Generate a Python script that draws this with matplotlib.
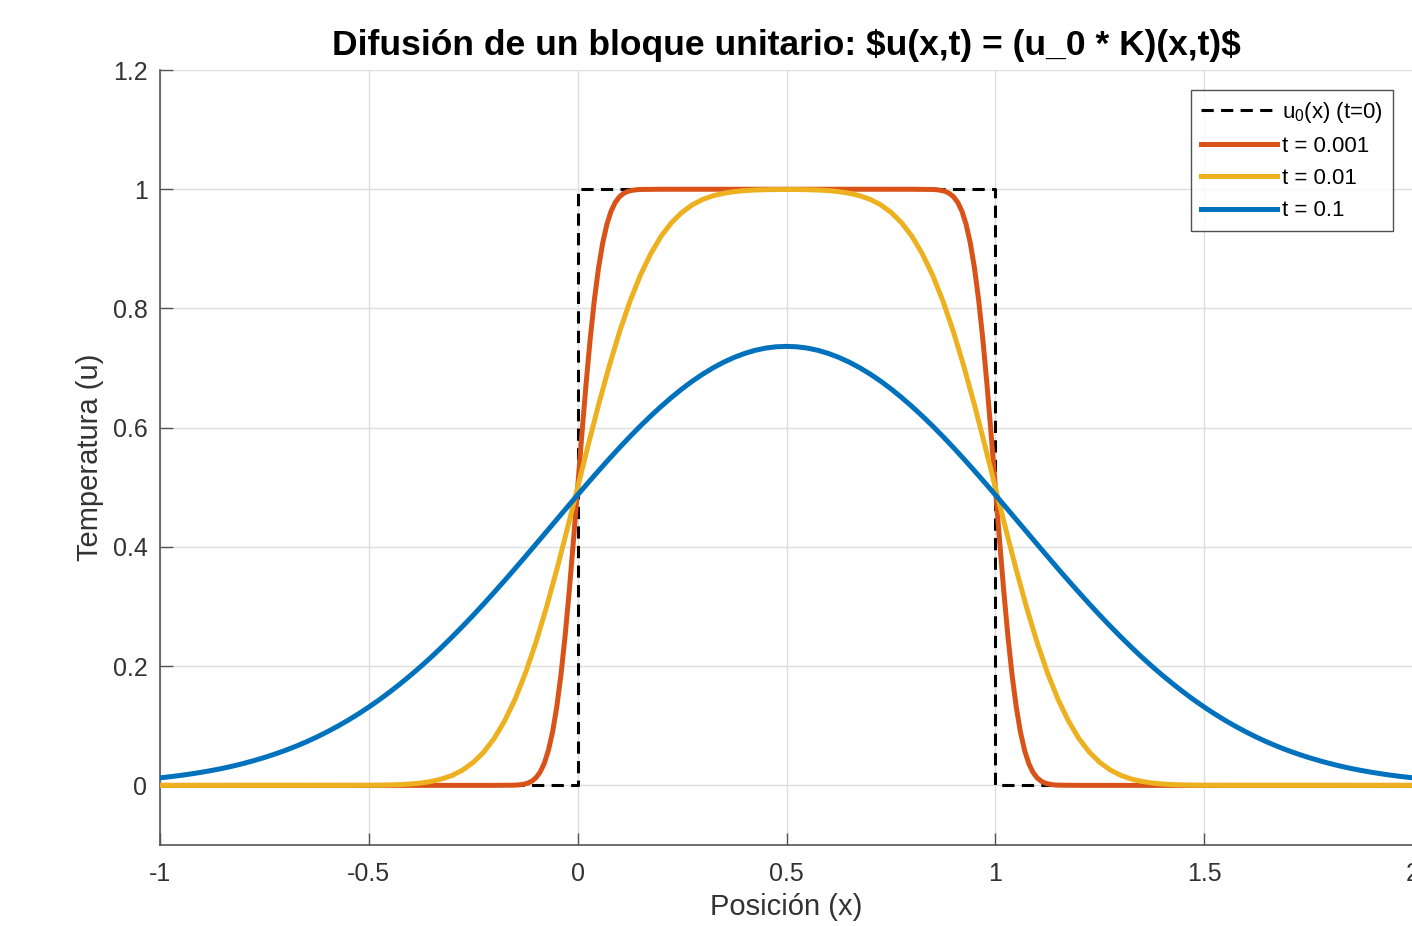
import matplotlib
matplotlib.use("Agg")
import matplotlib.pyplot as plt

plt.rcParams['font.family'] = ['Liberation Sans', 'DejaVu Sans']
plt.rcParams['mathtext.fontset'] = 'custom'
plt.rcParams['mathtext.rm'] = 'Liberation Sans'
plt.rcParams['mathtext.it'] = 'Liberation Sans'
plt.rcParams['mathtext.default'] = 'regular'

# ---------------- data ----------------
title_text = r"Difusión de un bloque unitario: \$u(x,t) = (u_0 * K)(x,t)\$"
x_label = "Posición (x)"
y_label = "Temperatura (u)"
legend_labels = ["u$_0$(x) (t=0)", "t = 0.001", "t = 0.01", "t = 0.1"]

x_ticks = [-1, -0.5, 0, 0.5, 1, 1.5, 2]
x_tick_labels = ["-1", "-0.5", "0", "0.5", "1", "1.5", "2"]
y_ticks = [0, 0.2, 0.4, 0.6, 0.8, 1, 1.2]
y_tick_labels = ["0", "0.2", "0.4", "0.6", "0.8", "1", "1.2"]

# initial block u0(x)
x_u0 = [-1, 0, 0, 1, 1, 2]
y_u0 = [0, 0, 1, 1, 0, 0]

# t = 0.001
x_t1 = [-1.0, -0.2, -0.15, -0.14, -0.13, -0.12, -0.11, -0.10, -0.09, -0.08, -0.07,
        -0.06, -0.05, -0.04, -0.03, -0.02, -0.01, 0.0, 0.01, 0.02, 0.03, 0.04,
        0.05, 0.06, 0.07, 0.08, 0.09, 0.10, 0.11, 0.12, 0.13, 0.14, 0.15, 0.2,
        0.8, 0.85, 0.86, 0.87, 0.88, 0.89, 0.90, 0.91, 0.92, 0.93, 0.94, 0.95,
        0.96, 0.97, 0.98, 0.99, 1.0, 1.01, 1.02, 1.03, 1.04, 1.05, 1.06, 1.07,
        1.08, 1.09, 1.10, 1.11, 1.12, 1.13, 1.14, 1.15, 1.2, 2.0]
y_t1 = [0.0, 0.0, 0.0004, 0.0009, 0.0019, 0.0036, 0.0070, 0.0127, 0.0221, 0.0368, 0.0588,
        0.0899, 0.1318, 0.1855, 0.2512, 0.3274, 0.4116, 0.5, 0.5884, 0.6726, 0.7488, 0.8145,
        0.8682, 0.9101, 0.9412, 0.9632, 0.9779, 0.9873, 0.9930, 0.9964, 0.9981, 0.9991, 0.9996, 1.0,
        1.0, 0.9996, 0.9991, 0.9981, 0.9964, 0.9930, 0.9873, 0.9779, 0.9632, 0.9412, 0.9101, 0.8682,
        0.8145, 0.7488, 0.6726, 0.5884, 0.5, 0.4116, 0.3274, 0.2512, 0.1855, 0.1318, 0.0899, 0.0588,
        0.0368, 0.0221, 0.0127, 0.0070, 0.0036, 0.0019, 0.0009, 0.0004, 0.0, 0.0]

# t = 0.01
x_t2 = [-1.0, -0.5, -0.475, -0.45, -0.425, -0.4, -0.375, -0.35, -0.325, -0.3, -0.275,
        -0.25, -0.225, -0.2, -0.175, -0.15, -0.125, -0.1, -0.075, -0.05, -0.025,
        0.0, 0.025, 0.05, 0.075, 0.1, 0.125, 0.15, 0.175, 0.2, 0.225, 0.25, 0.275,
        0.3, 0.325, 0.35, 0.375, 0.4, 0.425, 0.45, 0.475, 0.5, 0.525, 0.55, 0.575,
        0.6, 0.625, 0.65, 0.675, 0.7, 0.725, 0.75, 0.775, 0.8, 0.825, 0.85, 0.875,
        0.9, 0.925, 0.95, 0.975, 1.0, 1.025, 1.05, 1.075, 1.1, 1.125, 1.15, 1.175,
        1.2, 1.225, 1.25, 1.275, 1.3, 1.325, 1.35, 1.375, 1.4, 1.425, 1.45, 1.475,
        1.5, 2.0]
y_t2 = [0.0, 0.0002, 0.0004, 0.0007, 0.0013, 0.0023, 0.0040, 0.0067, 0.0108, 0.0169, 0.0259,
        0.0386, 0.0558, 0.0786, 0.1081, 0.1444, 0.1884, 0.2398, 0.2980, 0.3618, 0.4298,
        0.5, 0.5702, 0.6382, 0.7020, 0.7602, 0.8116, 0.8556, 0.8919, 0.9214, 0.9442, 0.9614, 0.9741,
        0.9831, 0.9892, 0.9933, 0.9960, 0.9977, 0.9987, 0.9992, 0.9995, 0.9996, 0.9995, 0.9992, 0.9987,
        0.9977, 0.9960, 0.9933, 0.9892, 0.9831, 0.9741, 0.9614, 0.9442, 0.9214, 0.8919, 0.8556, 0.8116,
        0.7602, 0.7020, 0.6382, 0.5702, 0.5, 0.4298, 0.3618, 0.2980, 0.2398, 0.1884, 0.1444, 0.1081,
        0.0786, 0.0558, 0.0386, 0.0259, 0.0169, 0.0108, 0.0067, 0.0040, 0.0023, 0.0013, 0.0007, 0.0004,
        0.0002, 0.0]

# t = 0.1
x_t3 = [-1.0, -0.975, -0.95, -0.925, -0.9, -0.875, -0.85, -0.825, -0.8, -0.775,
        -0.75, -0.725, -0.7, -0.675, -0.65, -0.625, -0.6, -0.575, -0.55, -0.525,
        -0.5, -0.475, -0.45, -0.425, -0.4, -0.375, -0.35, -0.325, -0.3, -0.275,
        -0.25, -0.225, -0.2, -0.175, -0.15, -0.125, -0.1, -0.075, -0.05, -0.025,
        0.0, 0.025, 0.05, 0.075, 0.1, 0.125, 0.15, 0.175, 0.2, 0.225,
        0.25, 0.275, 0.3, 0.325, 0.35, 0.375, 0.4, 0.425, 0.45, 0.475,
        0.5, 0.525, 0.55, 0.575, 0.6, 0.625, 0.65, 0.675, 0.7, 0.725,
        0.75, 0.775, 0.8, 0.825, 0.85, 0.875, 0.9, 0.925, 0.95, 0.975,
        1.0, 1.025, 1.05, 1.075, 1.1, 1.125, 1.15, 1.175, 1.2, 1.225,
        1.25, 1.275, 1.3, 1.325, 1.35, 1.375, 1.4, 1.425, 1.45, 1.475,
        1.5, 1.525, 1.55, 1.575, 1.6, 1.625, 1.65, 1.675, 1.7, 1.725,
        1.75, 1.775, 1.8, 1.825, 1.85, 1.875, 1.9, 1.925, 1.95, 1.975, 2.0]
y_t3 = [0.0127, 0.0146, 0.0168, 0.0193, 0.0221, 0.0252, 0.0286, 0.0325, 0.0368, 0.0416,
        0.0468, 0.0525, 0.0587, 0.0655, 0.0729, 0.0810, 0.0897, 0.0991, 0.1091, 0.1199,
        0.1314, 0.1436, 0.1566, 0.1703, 0.1847, 0.1998, 0.2156, 0.2322, 0.2494, 0.2672,
        0.2855, 0.3044, 0.3238, 0.3435, 0.3636, 0.3840, 0.4046, 0.4253, 0.4460, 0.4667,
        0.4873, 0.5077, 0.5277, 0.5473, 0.5664, 0.5849, 0.6027, 0.6197, 0.6358, 0.6510,
        0.6652, 0.6783, 0.6901, 0.7007, 0.7100, 0.7180, 0.7246, 0.7298, 0.7335, 0.7357,
        0.7364, 0.7357, 0.7335, 0.7298, 0.7246, 0.7180, 0.7100, 0.7007, 0.6901, 0.6783,
        0.6652, 0.6510, 0.6358, 0.6197, 0.6027, 0.5849, 0.5664, 0.5473, 0.5277, 0.5077,
        0.4873, 0.4667, 0.4460, 0.4253, 0.4046, 0.3840, 0.3636, 0.3435, 0.3238, 0.3044,
        0.2855, 0.2672, 0.2494, 0.2322, 0.2156, 0.1998, 0.1847, 0.1703, 0.1566, 0.1436,
        0.1314, 0.1199, 0.1091, 0.0991, 0.0897, 0.0810, 0.0729, 0.0655, 0.0587, 0.0525,
        0.0468, 0.0416, 0.0368, 0.0325, 0.0286, 0.0252, 0.0221, 0.0193, 0.0168, 0.0146, 0.0127]

# ---------------- style ----------------
c_orange = '#D95319'
c_yellow = '#EDB120'
c_blue = '#0072BD'
axis_col = '#333333'

fig = plt.figure(figsize=(14.12, 9.26), dpi=100)
fig.patch.set_facecolor('white')
ax = fig.add_axes([160 / 1412, (926 - 845) / 926, (1413 - 160) / 1412, (845 - 70) / 926])

ax.plot(x_u0, y_u0, color='black', lw=2.2, dashes=(4.0, 2.4), label=legend_labels[0], zorder=3)
ax.plot(x_t1, y_t1, color=c_orange, lw=3.6, label=legend_labels[1], zorder=4)
ax.plot(x_t2, y_t2, color=c_yellow, lw=3.6, label=legend_labels[2], zorder=5)
ax.plot(x_t3, y_t3, color=c_blue, lw=3.6, label=legend_labels[3], zorder=6)

ax.set_xlim(-1, 2)
ax.set_ylim(-0.1, 1.2)
ax.set_xticks(x_ticks)
ax.set_xticklabels(x_tick_labels)
ax.set_yticks(y_ticks)
ax.set_yticklabels(y_tick_labels)

ax.grid(True, color='#dedede', lw=1.0)
ax.set_axisbelow(True)
for s in ['top', 'right']:
    ax.spines[s].set_visible(False)
for s in ['left', 'bottom']:
    ax.spines[s].set_color('#555555')
    ax.spines[s].set_linewidth(1.2)
ax.tick_params(direction='in', length=9, width=1.0, color='#555555',
               labelcolor=axis_col, labelsize=18)
ax.tick_params(axis='x', pad=12)
ax.tick_params(axis='y', pad=9)

ax.set_xlabel(x_label, fontsize=21, color=axis_col, labelpad=5)
ax.set_ylabel(y_label, fontsize=21, color=axis_col, labelpad=6)
ax.set_title(title_text, fontsize=25.5, fontweight='bold', color='black', pad=11)

leg = ax.legend(loc='upper right', bbox_to_anchor=(1393 / 1412, (926 - 90) / 926),
                bbox_transform=fig.transFigure, fontsize=16, frameon=True, fancybox=False,
                edgecolor='#262626', handlelength=3.4, handletextpad=0.25,
                borderpad=0.45, labelspacing=0.5, borderaxespad=0)
leg.get_frame().set_linewidth(1.0)

fig.savefig('out.png', dpi=100, facecolor='white')
